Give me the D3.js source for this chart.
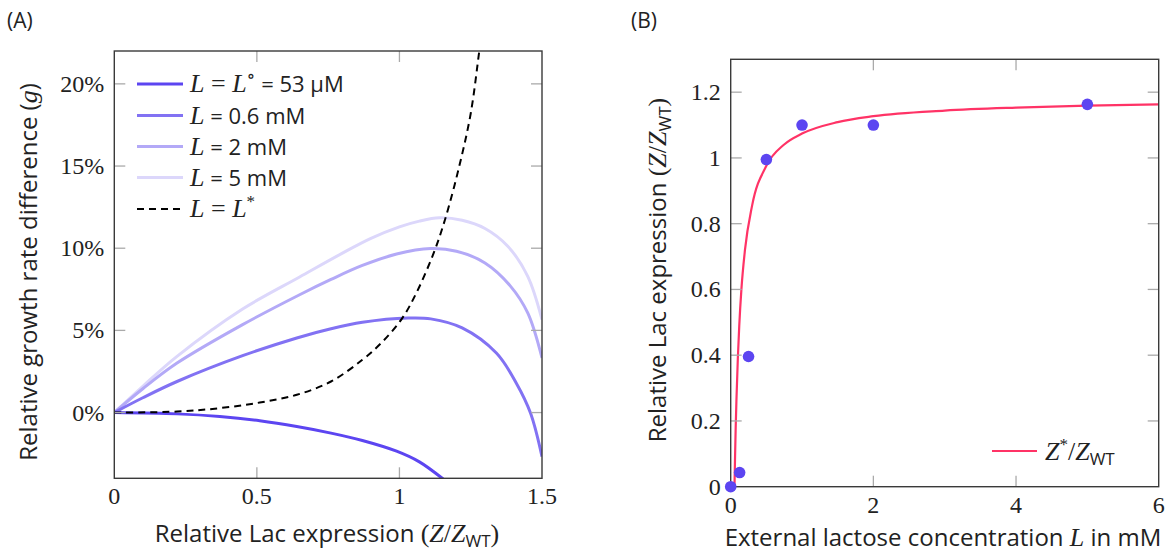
<!DOCTYPE html>
<html>
<head>
<meta charset="utf-8">
<script src="https://cdn.jsdelivr.net/npm/d3@7"></script>
<style>
  body { margin: 0; background: #fff; }
  svg { display: block; }
  .sans { font-family: 'Open Sans', 'Noto Sans', sans-serif; }
  .serif { font-family: 'Liberation Serif', 'DejaVu Serif', serif; }
</style>
</head>
<body>
<div id="chart"></div>
<script>
// ---- panel A: relative growth rate difference vs relative Lac expression ----
// [Z/Z_WT, g in %]
const curveLo = [[0, 0], [0.22, -0.08], [0.37, -0.24], [0.51, -0.5], [0.64, -0.85], [0.76, -1.25],
  [0.87, -1.7], [0.99, -2.35], [1.07, -3.0], [1.15, -4.0], [1.17, -4.3]];
const curve06 = [[0, 0], [0.1, 0.9], [0.22, 1.89], [0.45, 3.46], [0.64, 4.54], [0.76, 5.1], [0.87, 5.49],
  [1.03, 5.75], [1.11, 5.7], [1.22, 5.15], [1.34, 3.62], [1.41, 1.79], [1.46, -0.04], [1.5, -2.68]];
const curve2 = [[0, 0], [0.1, 1.45], [0.22, 3.01], [0.45, 5.35], [0.65, 7.17], [0.76, 8.1], [0.87, 8.95],
  [0.99, 9.65], [1.11, 9.98], [1.2, 9.82], [1.3, 9.1], [1.39, 7.68], [1.45, 6.06], [1.5, 3.32]];
const curve5 = [[0, 0], [0.1, 1.6], [0.22, 3.42], [0.45, 6.3], [0.65, 8.25], [0.8, 9.7], [0.9, 10.6],
  [1.0, 11.3], [1.07, 11.65], [1.14, 11.85], [1.22, 11.7], [1.3, 11.2], [1.38, 10.12], [1.45, 8.29], [1.5, 5.65]];
const curveStar = [[0, 0], [0.22, 0.06], [0.37, 0.27], [0.51, 0.61], [0.64, 1.08], [0.76, 1.89],
  [0.87, 3.21], [0.94, 4.3], [1.01, 5.75], [1.06, 7.3], [1.12, 9.7], [1.16, 11.75],
  [1.21, 15.0], [1.25, 18.2], [1.28, 22.0], [1.29, 23.3]];

const seriesA = [
  { pts: curveLo, color: '#5c45f1' },
  { pts: curve06, color: '#8272f3' },
  { pts: curve2, color: '#b3a9f7' },
  { pts: curve5, color: '#dcd7fb' }
];
const legendA = ['0.6 mM', '2 mM', '5 mM'];
const ticksAx = [0, 0.5, 1, 1.5];
const ticksAy = [0, 5, 10, 15, 20];

// ---- panel B: relative Lac expression vs external lactose ----
const lactoseMeasured = [0, 0.125, 0.25, 0.5, 1, 2, 5];
const lacMeasured = [0, 0.043, 0.396, 0.995, 1.1, 1.1, 1.163];
const lactoseFit = [0.053, 0.06, 0.07, 0.08, 0.1, 0.12, 0.15, 0.2, 0.3, 0.5, 0.75, 1, 1.5, 2, 3, 4, 5, 6];
const lacFit = [0, 0.08, 0.18, 0.26, 0.39, 0.49, 0.6, 0.72, 0.855, 0.976, 1.041, 1.074, 1.109,
  1.127, 1.144, 1.153, 1.159, 1.163];
const ticksBx = [0, 2, 4, 6];
const ticksBy = [0, 0.2, 0.4, 0.6, 0.8, 1, 1.2];

const W = 1173, H = 556;
const svg = d3.select('#chart').append('svg').attr('width', W).attr('height', H);

const axisColor = '#3a3a3a';
const tickColor = '#aaaaaa';
const tickLen = 11;
const SANS = 24, MATH = 26, TICK = 24, SUB = 17;

function frame(g, x, y, xt, yt, xfmt, yfmt) {
  const [x0, x1] = x.range();
  const [y0, y1] = y.range(); // y0 bottom
  // inner ticks, both sides
  const innerX = xt.filter(d => d !== x.domain()[0] && d !== x.domain()[1]);
  const innerY = yt.filter(d => d !== y.domain()[0] && d !== y.domain()[1]);
  g.selectAll('.tx').data(innerX).join('g').attr('class', 'tx').each(function (d) {
    const s = d3.select(this);
    s.append('line').attr('x1', x(d)).attr('x2', x(d)).attr('y1', y0).attr('y2', y0 - tickLen);
    s.append('line').attr('x1', x(d)).attr('x2', x(d)).attr('y1', y1).attr('y2', y1 + tickLen);
  }).selectAll('line').attr('stroke', tickColor).attr('stroke-width', 1.3);
  g.selectAll('.ty').data(innerY).join('g').attr('class', 'ty').each(function (d) {
    const s = d3.select(this);
    s.append('line').attr('y1', y(d)).attr('y2', y(d)).attr('x1', x0).attr('x2', x0 + tickLen);
    s.append('line').attr('y1', y(d)).attr('y2', y(d)).attr('x1', x1).attr('x2', x1 - tickLen);
  }).selectAll('line').attr('stroke', tickColor).attr('stroke-width', 1.3);
  g.append('rect').attr('x', x0).attr('y', y1).attr('width', x1 - x0).attr('height', y0 - y1)
    .attr('fill', 'none').attr('stroke', axisColor).attr('stroke-width', 1.4);
  g.selectAll('.xl').data(xt).join('text').attr('class', 'xl serif')
    .attr('x', d => x(d)).attr('y', y0 + 26).attr('text-anchor', 'middle')
    .attr('font-size', TICK).attr('fill', '#222').text(xfmt);
  g.selectAll('.yl').data(yt).join('text').attr('class', 'yl serif')
    .attr('x', x0 - 10).attr('y', d => y(d) + 8).attr('text-anchor', 'end')
    .attr('font-size', TICK).attr('fill', '#222').text(yfmt);
}

// helper for mixed sans / math text
function span(t, cls, size, txt, opts = {}) {
  const s = t.append('tspan').attr('class', cls).attr('font-size', size).text(txt);
  if (opts.italic) s.attr('font-style', 'italic');
  if (opts.dy) s.attr('dy', opts.dy);
  return s;
}
function zOverZwt(t, star) {
  span(t, 'serif', MATH, 'Z', { italic: true });
  if (star) span(t, 'serif', 17, '*', { dy: -10 });
  span(t, 'serif', MATH, '/', star ? { dy: 10 } : {});
  span(t, 'serif', MATH, 'Z', { italic: true });
  span(t, 'sans', SUB, 'WT', { dy: 5 });
}

// ================= panel A =================
const xA = d3.scaleLinear().domain([0, 1.5]).range([114.3, 542]);
const yA = d3.scaleLinear().domain([-4, 22]).range([478.3, 51]);
const gA = svg.append('g');

svg.append('clipPath').attr('id', 'clipA').append('rect')
  .attr('x', 114.3).attr('y', 51).attr('width', 542 - 114.3).attr('height', 478.3 - 51);

const lineA = d3.line().x(d => xA(d[0])).y(d => yA(d[1])).curve(d3.curveCatmullRom.alpha(0.5));
const plotA = gA.append('g').attr('clip-path', 'url(#clipA)');
seriesA.slice().reverse().forEach(s => {
  plotA.append('path').attr('d', lineA(s.pts)).attr('fill', 'none')
    .attr('stroke', s.color).attr('stroke-width', 3);
});
plotA.append('path').attr('d', lineA(curveStar)).attr('fill', 'none')
  .attr('stroke', '#000').attr('stroke-width', 2).attr('stroke-dasharray', '7,5');

frame(gA, xA, yA, ticksAx, ticksAy, d => String(d), d => d + '%');

// legend A
const legA = gA.append('g');
const legY = [84, 115.5, 146.5, 177.5, 209];
seriesA.forEach((s, i) => {
  legA.append('line').attr('x1', 137).attr('x2', 183).attr('y1', legY[i]).attr('y2', legY[i])
    .attr('stroke', s.color).attr('stroke-width', 3);
});
legA.append('line').attr('x1', 137).attr('x2', 183).attr('y1', legY[4]).attr('y2', legY[4])
  .attr('stroke', '#000').attr('stroke-width', 2).attr('stroke-dasharray', '7,5');

function legText(i) {
  return legA.append('text').attr('x', 190).attr('y', legY[i] + 8).attr('fill', '#222');
}
let t = legText(0);
span(t, 'serif', MATH, 'L', { italic: true });
span(t, 'serif', MATH, ' = ');
span(t, 'serif', MATH, 'L', { italic: true });
span(t, 'serif', 18, '\u2218', { dy: -10 });
span(t, 'sans', 22, ' = 53 \u00B5M', { dy: 10 });
legendA.forEach((lab, k) => {
  const tt = legText(k + 1);
  span(tt, 'serif', MATH, 'L', { italic: true });
  span(tt, 'sans', 22, ' = ' + lab);
});
t = legText(4);
span(t, 'serif', MATH, 'L', { italic: true });
span(t, 'serif', MATH, ' = ');
span(t, 'serif', MATH, 'L', { italic: true });
span(t, 'serif', 17, '*', { dy: -10 });

// axis labels A
let xl = gA.append('text').attr('x', 327).attr('y', 542).attr('text-anchor', 'middle').attr('fill', '#222');
span(xl, 'sans', SANS, 'Relative Lac expression ');
span(xl, 'serif', MATH, '(');
zOverZwt(xl, false);
span(xl, 'serif', MATH, ')', { dy: -5 });

let yl = gA.append('text').attr('transform', 'translate(37,272) rotate(-90)')
  .attr('text-anchor', 'middle').attr('fill', '#222');
span(yl, 'sans', SANS, 'Relative growth rate difference (');
span(yl, 'serif', MATH, 'g', { italic: true });
span(yl, 'sans', SANS, ')');

svg.append('text').attr('class', 'sans').attr('x', 7).attr('y', 28).attr('font-size', 21)
  .attr('fill', '#222').text('(A)');

// ================= panel B =================
const xB = d3.scaleLinear().domain([0, 6]).range([730.7, 1158.7]);
const yB = d3.scaleLinear().domain([0, 1.3]).range([486.7, 59.3]);
const gB = svg.append('g');

const fitPts = lactoseFit.map((d, i) => [d, lacFit[i]]);
const lineB = d3.line().x(d => xB(d[0])).y(d => yB(d[1])).curve(d3.curveMonotoneX);
gB.append('path').attr('d', lineB(fitPts)).attr('fill', 'none')
  .attr('stroke', '#ff3366').attr('stroke-width', 2.2);

frame(gB, xB, yB, ticksBx, ticksBy, d => String(d), d => String(d));

gB.selectAll('circle').data(lactoseMeasured).join('circle')
  .attr('cx', d => xB(d)).attr('cy', (d, i) => yB(lacMeasured[i])).attr('r', 5.8)
  .attr('fill', '#5c45f1');

// legend B
gB.append('line').attr('x1', 992).attr('x2', 1037).attr('y1', 451).attr('y2', 451)
  .attr('stroke', '#ff3366').attr('stroke-width', 2.2);
const lb = gB.append('text').attr('x', 1045).attr('y', 460).attr('fill', '#222');
zOverZwt(lb, true);

// axis labels B
xl = gB.append('text').attr('x', 943).attr('y', 546).attr('text-anchor', 'middle').attr('fill', '#222');
span(xl, 'sans', SANS, 'External lactose concentration ');
span(xl, 'serif', MATH, 'L', { italic: true });
span(xl, 'sans', SANS, ' in mM');

yl = gB.append('text').attr('transform', 'translate(666,270) rotate(-90)')
  .attr('text-anchor', 'middle').attr('fill', '#222');
span(yl, 'sans', SANS, 'Relative Lac expression ');
span(yl, 'serif', MATH, '(');
zOverZwt(yl, false);
span(yl, 'serif', MATH, ')', { dy: -5 });

svg.append('text').attr('class', 'sans').attr('x', 631).attr('y', 28).attr('font-size', 21)
  .attr('fill', '#222').text('(B)');
</script>
</body>
</html>
